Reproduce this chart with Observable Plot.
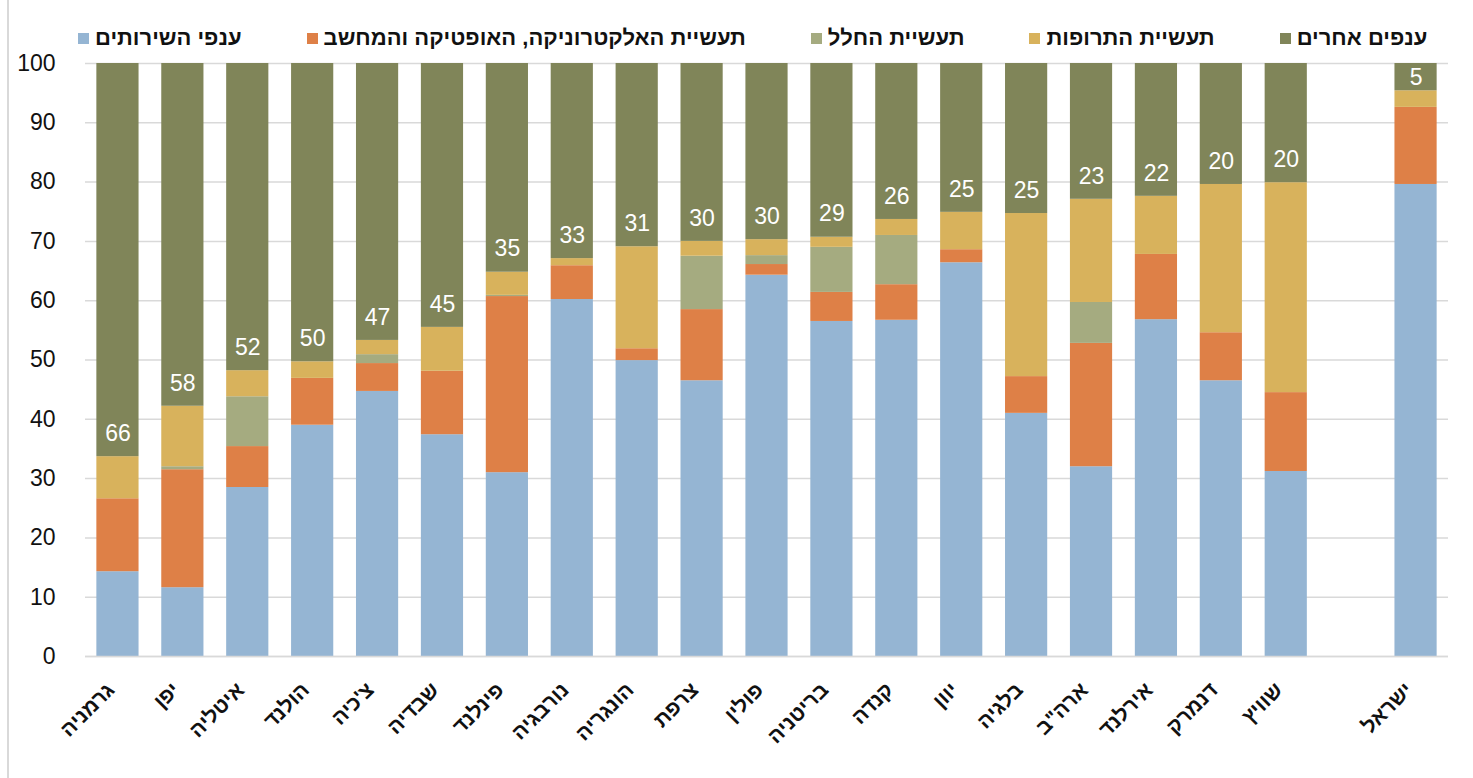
<!DOCTYPE html>
<html>
<head>
<meta charset="utf-8">
<script src="https://cdn.jsdelivr.net/npm/d3@7"></script>
<script src="https://cdn.jsdelivr.net/npm/@observablehq/plot@0.6"></script>
<style>
  body { margin: 0; background: #fff; font-family: "Liberation Sans", Arial, sans-serif; }
  #wrap { position: relative; width: 1473px; height: 778px; }
  #edge { position: absolute; left: 7px; top: 0; width: 1.5px; height: 778px; background: #d9d9d9; }
  #legend { height: 48px; display: flex; align-items: center; padding-left: 78px; padding-top: 28px; box-sizing: border-box; }
  .item { display: flex; align-items: center; font-weight: bold; font-size: 22px; line-height: 22px; color: #111; margin-right: 65px; white-space: nowrap; }
  .sw { width: 11px; height: 11px; margin-right: 6px; }
</style>
</head>
<body>
<div id="wrap">
  <div id="edge"></div>
  <div id="legend"></div>
  <div id="chart"></div>
</div>
<script>
const countries = ["גרמניה","יפן","איטליה","הולנד","צ'כיה","שבדיה","פינלנד","נורבגיה","הונגריה","צרפת","פולין","בריטניה","קנדה","יוון","בלגיה","ארה\"ב","אירלנד","דנמרק","שוויץ","ישראל"];
const services    = [14.3, 11.6, 28.5, 39.0, 44.7, 37.4, 31.0, 60.2, 49.9, 46.5, 64.3, 56.5, 56.7, 66.4, 41.0, 32.0, 56.8, 46.5, 31.2, 79.6];
const electronics = [12.3, 19.9,  6.9,  7.9,  4.7, 10.7, 29.7,  5.7,  2.0, 12.0,  1.8,  4.9,  6.0,  2.2,  6.2, 20.8, 11.0,  8.1, 13.3, 13.0];
const space       = [ 0.0,  0.5,  8.4,  0.0,  1.5,  0.0,  0.2,  0.0,  0.0,  9.0,  1.5,  7.6,  8.3,  0.0,  0.0,  6.9,  0.0,  0.0,  0.0,  0.0];
const pharma      = [ 7.1, 10.2,  4.4,  2.8,  2.4,  7.4,  3.9,  1.2, 17.2,  2.5,  2.7,  1.7,  2.7,  6.3, 27.5, 17.4,  9.8, 25.0, 35.4,  2.8];
const other       = [66.3, 57.8, 51.8, 50.3, 46.7, 44.5, 35.2, 32.9, 30.9, 30.0, 29.7, 29.3, 26.3, 25.1, 25.3, 22.9, 22.4, 20.4, 20.1,  4.6];
const otherLabels = ["66","58","52","50","47","45","35","33","31","30","30","29","26","25","25","23","22","20","20","5"];
const seriesNames = ["ענפי השירותים","תעשיית האלקטרוניקה, האופטיקה והמחשב","תעשיית החלל","תעשיית התרופות","ענפים אחרים"];
const seriesColors = ["#95b5d3","#de8047","#a5ab80","#d8b25c","#808559"];
const yTicks = [0,10,20,30,40,50,60,70,80,90,100];
const GAP = "\u00a0gap";

const seriesArrays = [services, electronics, space, pharma, other];
const rows = [];
countries.forEach((c, i) => {
  seriesArrays.forEach((arr, s) => rows.push({country: c, series: seriesNames[s], value: arr[i], order: s}));
});
const labels = countries.map((c, i) => {
  const base = 100 - other[i];
  return {country: c, y: Math.min(base + 3.9, (base + 100) / 2), text: otherLabels[i]};
});

const xDomain = [...countries.slice(0, 19), GAP, countries[19]];

// legend
const legend = document.getElementById("legend");
seriesNames.forEach((n, i) => {
  const it = document.createElement("div");
  it.className = "item";
  const sw = document.createElement("div");
  sw.className = "sw";
  sw.style.background = seriesColors[i];
  const t = document.createElement("span");
  t.textContent = n;
  t.dir = "rtl";
  it.appendChild(sw); it.appendChild(t);
  legend.appendChild(it);
});

const chart = Plot.plot({
  width: 1473,
  height: 730,
  marginLeft: 85,
  marginRight: 25,
  marginTop: 15,
  marginBottom: 122,
  style: {fontFamily: "Liberation Sans, Arial, sans-serif", background: "transparent", color: "#111"},
  x: {domain: xDomain, paddingInner: 0.35, paddingOuter: 0.175, round: false, label: null},
  y: {domain: [0, 100], label: null},
  color: {domain: seriesNames, range: seriesColors},
  marks: [
    Plot.gridY(yTicks, {stroke: "#d9d9d9", strokeOpacity: 1, strokeWidth: 1.5}),
    Plot.barY(rows, Plot.stackY({x: "country", y: "value", fill: "series", order: "order"})),
    Plot.ruleY([0], {stroke: "#d9d9d9", strokeWidth: 1.5}),
    Plot.text(labels, {x: "country", y: "y", text: "text", fill: "white", fontSize: 23}),
    Plot.axisY(yTicks, {tickSize: 0, tickPadding: 30, fontSize: 23, label: null}),
    Plot.axisX({tickSize: 0, tickPadding: 21, dx: -7, dy: 9, tickRotate: -45, fontSize: 21, fontWeight: "bold",
      tickFormat: d => d === GAP ? "" : d, label: null})
  ]
});
document.getElementById("chart").appendChild(chart);
</script>
</body>
</html>
